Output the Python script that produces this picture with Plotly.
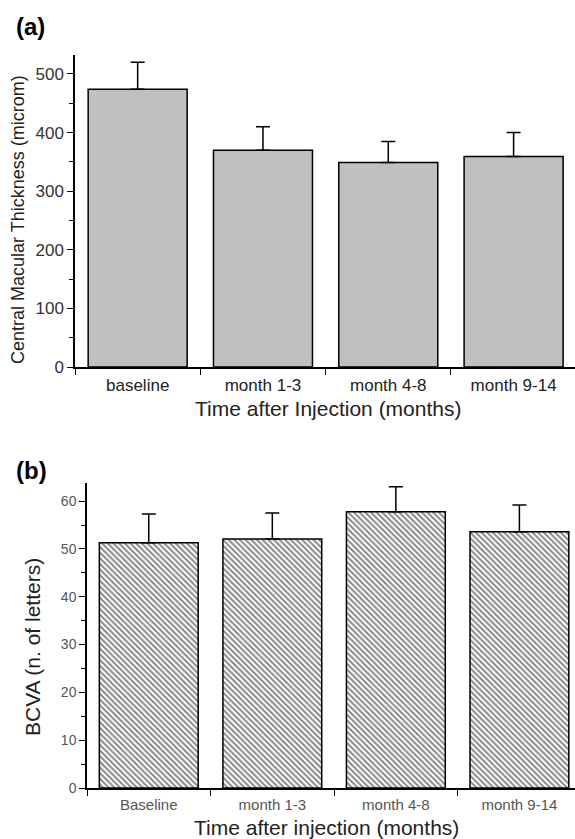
import plotly.graph_objects as go

# ---------------- data ----------------
cats_a = ["baseline", "month 1-3", "month 4-8", "month 9-14"]
cmt_mean = [474, 370, 349, 359]
cmt_sd = [46, 40, 36, 41]

cats_b = ["Baseline", "month 1-3", "month 4-8", "month 9-14"]
bcva_mean = [51.3, 52.1, 57.8, 53.6]
bcva_sd = [6.0, 5.4, 5.2, 5.6]

yticks_a = [0, 100, 200, 300, 400, 500]
yticks_b = [0, 10, 20, 30, 40, 50, 60]

W, H = 575, 839
FONT = "Arial, Liberation Sans, sans-serif"


def px(x):
    return x / W


def py(y):
    return 1 - y / H


fig = go.Figure()

xa = list(range(len(cats_a)))
xb = list(range(len(cats_b)))

fig.add_trace(go.Bar(
    x=xa, y=cmt_mean, width=0.79,
    marker=dict(color="#c0c0c0", line=dict(color="black", width=1.5)),
    error_y=dict(type="data", symmetric=False, array=cmt_sd,
                 arrayminus=[0] * len(cmt_sd), color="black",
                 thickness=1.5, width=7),
    xaxis="x", yaxis="y", showlegend=False,
))

fig.add_trace(go.Bar(
    x=xb, y=bcva_mean, width=0.8,
    marker=dict(color="white", line=dict(color="black", width=1.5),
                pattern=dict(shape="\\", size=4, solidity=0.5,
                             fgcolor="#111", bgcolor="white")),
    error_y=dict(type="data", symmetric=False, array=bcva_sd,
                 arrayminus=[0] * len(bcva_sd), color="black",
                 thickness=1.5, width=7),
    xaxis="x2", yaxis="y2", showlegend=False,
))

common_x = dict(
    showline=True, linecolor="black", linewidth=1.5,
    showgrid=False, zeroline=False, ticks="",
    minor=dict(ticks="outside", ticklen=6, tick0=0.5, dtick=1,
               tickcolor="black", tickwidth=1.2, showgrid=False),
)
common_y = dict(
    showline=True, linecolor="black", linewidth=1.5,
    showgrid=False, zeroline=False, ticks="outside", ticklen=6,
    tickcolor="black", tickwidth=1.2,
)

fig.update_layout(
    width=W, height=H,
    margin=dict(l=0, r=0, t=0, b=0, autoexpand=False),
    paper_bgcolor="white", plot_bgcolor="white",
    bargap=0.2,
    xaxis=dict(domain=[px(75), 1], range=[-0.5, 3.49], anchor="y",
               tickvals=xa, ticktext=cats_a, ticklabelstandoff=2,
               tickfont=dict(family=FONT, size=17, color="#222"),
               **common_x),
    yaxis=dict(domain=[py(367), py(55)], range=[0, 532.4], anchor="x",
               tickvals=yticks_a,
               minor=dict(ticks="outside", ticklen=4, dtick=50,
                          tickcolor="black", tickwidth=1.2, showgrid=False),
               tickfont=dict(family=FONT, size=17, color="#333"),
               **common_y),
    xaxis2=dict(domain=[px(87), 1], range=[-0.5, 3.45], anchor="y2",
                tickvals=xb, ticktext=cats_b, ticklabelstandoff=2,
                tickfont=dict(family=FONT, size=15, color="#555"),
                **common_x),
    yaxis2=dict(domain=[py(788), py(483)], range=[0, 63.8], anchor="x2",
                tickvals=yticks_b,
                minor=dict(ticks="outside", ticklen=4, dtick=5,
                           tickcolor="black", tickwidth=1.2, showgrid=False),
                tickfont=dict(family=FONT, size=14, color="#555"),
                **common_y),
)

ann = [
    dict(text="<b>(a)</b>", x=px(14), y=py(27), xanchor="left", yanchor="middle",
         font=dict(family=FONT, size=24, color="black")),
    dict(text="Central Macular Thickness (microm)", x=px(18), y=py(220),
         xanchor="center", yanchor="middle", textangle=-90,
         font=dict(family=FONT, size=18, color="#222")),
    dict(text="Time after Injection (months)", x=px(328), y=py(409),
         xanchor="center", yanchor="middle",
         font=dict(family=FONT, size=21, color="#222")),
    dict(text="<b>(b)</b>", x=px(14), y=py(470), xanchor="left", yanchor="middle",
         font=dict(family=FONT, size=24, color="black")),
    dict(text="BCVA (n. of letters)", x=px(32), y=py(647),
         xanchor="center", yanchor="middle", textangle=-90,
         font=dict(family=FONT, size=21, color="#222")),
    dict(text="Time after injection (months)", x=px(326), y=py(827),
         xanchor="center", yanchor="middle",
         font=dict(family=FONT, size=21, color="#222")),
]
for a in ann:
    fig.add_annotation(xref="paper", yref="paper", showarrow=False, **a)

fig.write_html("out.html")
